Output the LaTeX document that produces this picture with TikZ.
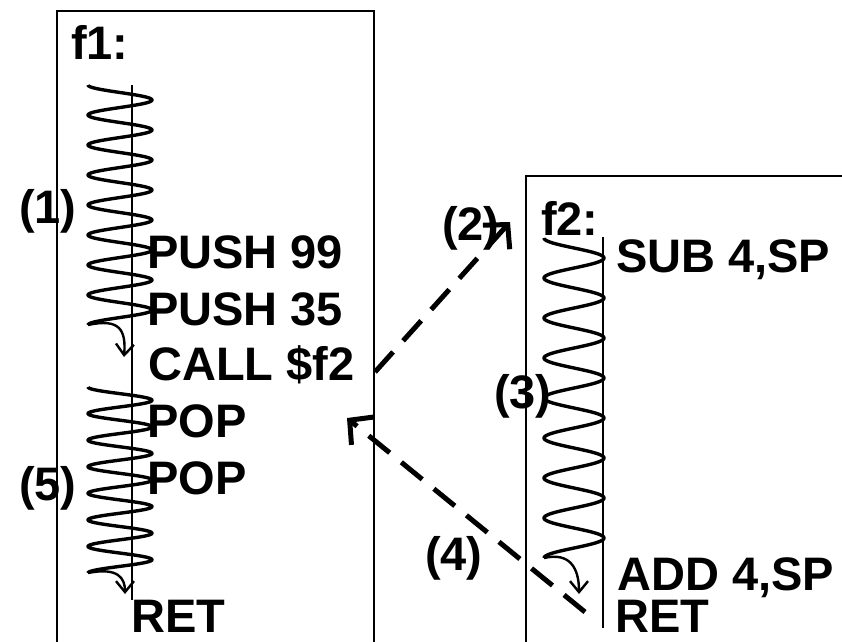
\documentclass[tikz,border=0pt]{standalone}
\usepackage{fontspec}
\setmainfont{Liberation Sans}
\usetikzlibrary{arrows.meta}
\begin{document}
\begin{tikzpicture}[x=1pt,y=-1pt,
  frame/.style={line width=2.5pt},
  axisline/.style={line width=2.2pt},
  wave/.style={line width=3.4pt, line join=round},
  code/.style={font=\fontsize{47}{47}\selectfont\bfseries, anchor=base west, inner sep=0pt},
  hook/.style={line width=2.4pt,-{Straight Barb[length=11pt,width=18pt]}},
  jump/.style={line width=5pt, dash pattern=on 27pt off 15pt, -{Straight Barb[length=17pt,width=36pt,line width=5pt]}}
]
\useasboundingbox (0,0) rectangle (842,641);
\clip (0,0) rectangle (842,641);
\fill[white] (0,0) rectangle (842,641);
% frames
\draw[frame] (57,700) -- (57,11) -- (374,11) -- (374,700);
\draw[frame] (526,700) -- (526,176) -- (900,176);
% time axes
\draw[axisline] (132,85) -- (132,600);
\draw[axisline] (603,237) -- (603,628);
% waves
\draw[wave] plot[domain=0:240,samples=400] ({120-32*cos(12*\x)},{85+\x});
\draw[hook] (88,325) .. controls (120,318) and (126,330) .. (124,357);
\draw[wave] plot[domain=0:186,samples=400] ({120-32*cos(13.549*\x)},{387+\x});
\draw[hook] (88,573) .. controls (118,567) and (125,578) .. (125,594);
\draw[wave] plot[domain=0:320,samples=400] ({574-30*cos(9*\x)},{238+\x});
\draw[hook] (544,558) .. controls (570,552) and (579,568) .. (579,594);
% texts
\node[code] (f1) at (71,59) {f1:};
\node[code] (push99) at (147,268) {PUSH 99};
\node[code] (push35) at (147,325) {PUSH 35};
\node[code] (call) at (148,380) {CALL \$f2};
\node[code] (pop1) at (147,437) {POP};
\node[code] (pop2) at (147,494) {POP};
\node[code] (ret1) at (131.5,632) {RET};
\node[code] (f2) at (541,235) {f2:};
\node[code] (sub) at (616,272) {SUB 4,SP};
\node[code] (add) at (617,590) {ADD 4,SP};
\node[code] (ret2) at (615,632) {RET};
\node[code] (l1) at (19,223) {(1)};
\node[code] (l2) at (442,240) {(2)};
\node[code] (l3) at (494,408) {(3)};
\node[code] (l4) at (425,570) {(4)};
\node[code] (l5) at (19,500) {(5)};
% jumps
\coordinate (callout) at (375,372);
\coordinate (f2in) at (510,222);
\coordinate (retout) at (585,612);
\coordinate (back) at (347,418);
\draw[jump] (callout) -- (f2in);
\draw[jump] (retout) -- (back);
\end{tikzpicture}
\end{document}
